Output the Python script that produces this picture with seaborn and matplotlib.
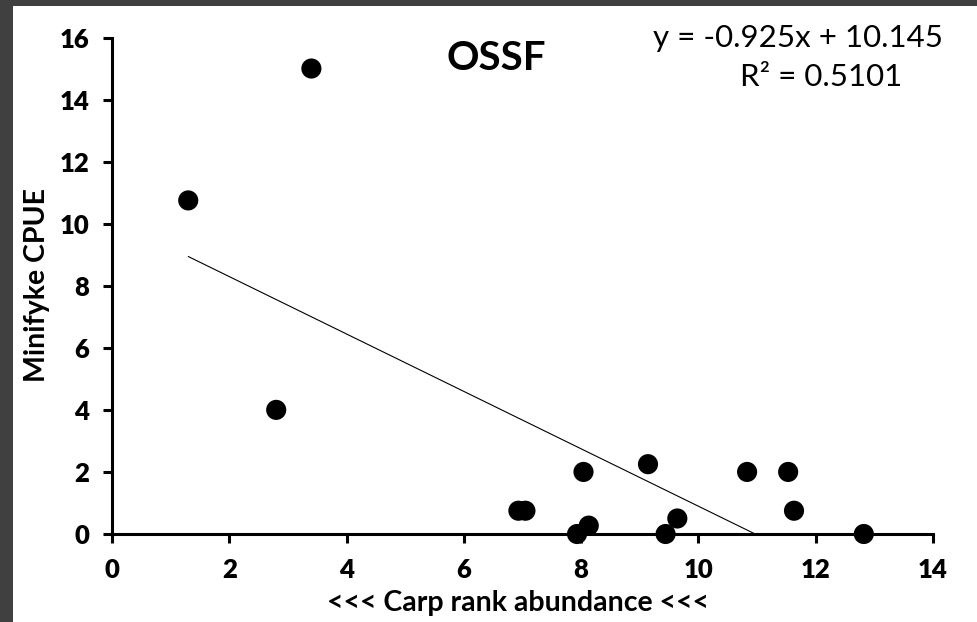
import matplotlib
matplotlib.use("Agg")
import matplotlib.pyplot as plt
import seaborn as sns
import numpy as np
import pandas as pd
from matplotlib.patches import Rectangle

# Data
carp_rank = [1.3, 3.4, 2.8, 6.93, 7.05, 8.04, 7.93, 8.13, 9.14, 9.44, 9.64, 10.83, 11.53, 11.63, 12.82]
cpue      = [10.75, 15.0, 4.0, 0.75, 0.75, 2.0, 0.0, 0.27, 2.25, 0.0, 0.5, 2.0, 2.0, 0.75, 0.0]
slope = -0.925
intercept = 10.145
r2 = 0.5101
x_ticks = [0, 2, 4, 6, 8, 10, 12, 14]
y_ticks = [0, 2, 4, 6, 8, 10, 12, 14, 16]
title = "OSSF"
x_label = "<<< Carp rank abundance <<<"
y_label = "Minifyke CPUE"

df = pd.DataFrame({"rank": carp_rank, "cpue": cpue})
trend_x = np.array([min(carp_rank), max(carp_rank)])
trend_df = pd.DataFrame({"rank": trend_x, "cpue": slope * trend_x + intercept})

sns.set_theme(style="white")
plt.rcParams["font.family"] = ["Lato", "DejaVu Sans"]
plt.rcParams["font.weight"] = "bold"

W, H = 978, 622
fig = plt.figure(figsize=(W / 100, H / 100), dpi=100, facecolor="#404040")
fig.patches.append(Rectangle((13 / W, 0), 1 - 13 / W, 1 - 6 / H, transform=fig.transFigure,
                             facecolor="white", edgecolor="none", zorder=-10))

x0, x1 = 112, 933
y0, y1 = 534, 37.5
ax = fig.add_axes([x0 / W, 1 - y0 / H, (x1 - x0) / W, (y0 - y1) / H])
ax.set_facecolor("none")

sns.lineplot(data=trend_df, x="rank", y="cpue", ax=ax, color="black", linewidth=0.8)
sns.scatterplot(data=df, x="rank", y="cpue", ax=ax, color="black", s=210,
                edgecolor="none", clip_on=False, zorder=5)

ax.set_xlim(0, 14)
ax.set_ylim(0, 16)
ax.set_xticks(x_ticks)
ax.set_yticks(y_ticks)
ax.set_xticklabels([str(t) for t in x_ticks], fontweight="heavy")
ax.set_yticklabels([str(t) for t in y_ticks], fontweight="heavy")

for s in ["top", "right"]:
    ax.spines[s].set_visible(False)
for s in ["left", "bottom"]:
    ax.spines[s].set_linewidth(2.2)
    ax.spines[s].set_color("black")

ax.tick_params(axis="both", which="major", direction="out", length=6.5, width=2.2,
               colors="black", labelsize=18.5, bottom=True, left=True)
ax.tick_params(axis="x", pad=11)
ax.tick_params(axis="y", pad=10)

ax.set_xlabel(x_label, fontsize=20.5, fontweight="bold", color="black")
ax.set_ylabel(y_label, fontsize=20.5, fontweight="bold", color="black")
ax.xaxis.set_label_coords((518 - x0) / (x1 - x0), -(603 - y0) / (y0 - y1))
ax.xaxis.label.set_va("center")
ax.yaxis.set_label_coords(-(x0 - 37) / (x1 - x0), (y0 - 285) / (y0 - y1))
ax.yaxis.label.set_va("center")

fig.text(496 / W, 1 - 58 / H, title, ha="center", va="center", fontsize=29,
         fontweight="bold", color="black")
fig.text(798 / W, 1 - 38 / H, f"y = {slope}x + {intercept}", ha="center", va="center",
         fontsize=22.5, fontweight="normal", color="black")
fig.text(821 / W, 1 - 77 / H, f"R² = {r2}", ha="center", va="center",
         fontsize=22.5, fontweight="normal", color="black")

fig.savefig("out.png", dpi=100, facecolor=fig.get_facecolor())
